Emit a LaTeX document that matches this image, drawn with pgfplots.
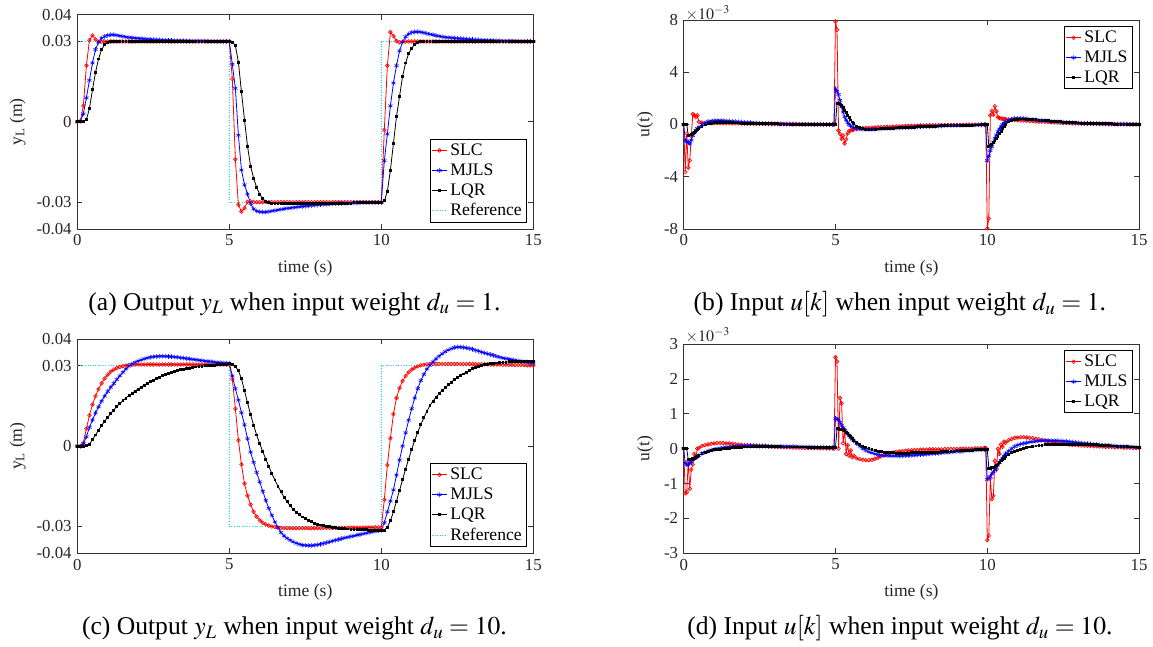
\documentclass[border=0pt]{standalone}
\usepackage{mathptmx}
\usepackage{fontspec}
\setmainfont{Liberation Serif}
\usepackage{pgfplots}
\usepackage{pgfplotstable}
\pgfplotsset{compat=1.18}
\definecolor{refc}{rgb}{0,0.9,0.9}

\pgfplotstableread{
t slc mjls lqr
0.0 0 0 0
0.1 0.0003 0.0002 0
0.2 0.006 0.003 0.0002
0.3 0.021 0.009 0.0008
0.4 0.0305 0.0155 0.005
0.5 0.0323 0.022 0.012
0.6 0.0308 0.027 0.0185
0.7 0.0298 0.0298 0.0235
0.8 0.0299 0.0312 0.027
0.9 0.03 0.0319 0.0288
1.0 0.03 0.0323 0.0296
1.1 0.03 0.0325 0.03
1.2 0.03 0.0325 0.0301
1.3 0.03 0.0323 0.0301
1.4 0.03 0.0321 0.0301
1.5 0.03 0.0319 0.0301
1.6 0.03 0.0317 0.0301
1.7 0.03 0.0315 0.0301
1.8 0.03 0.0314 0.0301
1.9 0.03 0.0313 0.0301
2.0 0.03 0.0312 0.0301
2.1 0.03 0.0311 0.0301
2.2 0.03 0.031 0.0301
2.3 0.03 0.0309 0.0301
2.4 0.03 0.0308 0.0301
2.5 0.03 0.0307 0.0301
2.6 0.03 0.0306 0.0301
2.7 0.03 0.0306 0.0301
2.8 0.03 0.0305 0.0301
2.9 0.03 0.0305 0.0301
3.0 0.03 0.0304 0.0301
3.1 0.03 0.0304 0.0301
3.2 0.03 0.0303 0.0301
3.3 0.03 0.0303 0.0301
3.4 0.03 0.0303 0.0301
3.5 0.03 0.0303 0.0301
3.6 0.03 0.0302 0.0301
3.7 0.03 0.0302 0.0301
3.8 0.03 0.0302 0.0301
3.9 0.03 0.0302 0.0301
4.0 0.03 0.0302 0.0301
4.1 0.03 0.0302 0.0301
4.2 0.03 0.0302 0.0301
4.3 0.03 0.0301 0.0301
4.4 0.03 0.0301 0.0301
4.5 0.03 0.0301 0.0301
4.6 0.03 0.0301 0.0301
4.7 0.03 0.0301 0.0301
4.8 0.03 0.0301 0.0301
4.9 0.03 0.0301 0.0301
5.0 0.03 0.0301 0.0301
5.1 0.016 0.0215 0.0298
5.2 -0.014 0.0125 0.0285
5.3 -0.031 -0.005 0.0223
5.4 -0.0335 -0.018 0.0112
5.5 -0.0322 -0.0235 0.0007
5.6 -0.0299 -0.027 -0.0091
5.7 -0.0297 -0.0305 -0.0165
5.8 -0.0299 -0.0325 -0.021
5.9 -0.03 -0.0333 -0.0245
6.0 -0.03 -0.0336 -0.027
6.1 -0.03 -0.0337 -0.0287
6.2 -0.03 -0.0337 -0.0297
6.3 -0.03 -0.0335 -0.0302
6.4 -0.03 -0.0333 -0.0304
6.5 -0.03 -0.0331 -0.0305
6.6 -0.03 -0.0329 -0.0305
6.7 -0.03 -0.0327 -0.0305
6.8 -0.03 -0.0325 -0.0305
6.9 -0.03 -0.0323 -0.0305
7.0 -0.03 -0.0322 -0.0305
7.1 -0.03 -0.032 -0.0305
7.2 -0.03 -0.0319 -0.0305
7.3 -0.03 -0.0317 -0.0305
7.4 -0.03 -0.0316 -0.0305
7.5 -0.03 -0.0315 -0.0305
7.6 -0.03 -0.0314 -0.0305
7.7 -0.03 -0.0312 -0.0305
7.8 -0.03 -0.0311 -0.0305
7.9 -0.03 -0.031 -0.0305
8.0 -0.03 -0.0309 -0.0305
8.1 -0.03 -0.0308 -0.0304
8.2 -0.03 -0.0308 -0.0304
8.3 -0.03 -0.0307 -0.0304
8.4 -0.03 -0.0306 -0.0304
8.5 -0.03 -0.0306 -0.0304
8.6 -0.03 -0.0305 -0.0303
8.7 -0.03 -0.0305 -0.0303
8.8 -0.03 -0.0304 -0.0303
8.9 -0.03 -0.0304 -0.0303
9.0 -0.03 -0.0303 -0.0303
9.1 -0.03 -0.0303 -0.0302
9.2 -0.03 -0.0303 -0.0302
9.3 -0.03 -0.0302 -0.0302
9.4 -0.03 -0.0302 -0.0302
9.5 -0.03 -0.0302 -0.0302
9.6 -0.03 -0.0302 -0.0302
9.7 -0.03 -0.0301 -0.0302
9.8 -0.03 -0.0301 -0.0302
9.9 -0.03 -0.0301 -0.0302
10.0 -0.03 -0.0301 -0.0302
10.1 -0.003 -0.0145 -0.0295
10.2 0.021 -0.0045 -0.026
10.3 0.0335 0.006 -0.018
10.4 0.032 0.0145 -0.008
10.5 0.0302 0.021 0.002
10.6 0.0297 0.0265 0.0095
10.7 0.0299 0.0298 0.017
10.8 0.03 0.0318 0.022
10.9 0.03 0.0328 0.0255
11.0 0.03 0.0334 0.0275
11.1 0.03 0.0336 0.0288
11.2 0.03 0.0336 0.0295
11.3 0.03 0.0335 0.0299
11.4 0.03 0.0333 0.0301
11.5 0.03 0.033 0.0301
11.6 0.03 0.0327 0.0301
11.7 0.03 0.0325 0.0301
11.8 0.03 0.0322 0.0301
11.9 0.03 0.032 0.0301
12.0 0.03 0.0318 0.0301
12.1 0.03 0.0316 0.0301
12.2 0.03 0.0315 0.0301
12.3 0.03 0.0314 0.0301
12.4 0.03 0.0313 0.0301
12.5 0.03 0.0312 0.0301
12.6 0.03 0.0311 0.0301
12.7 0.03 0.031 0.0301
12.8 0.03 0.0309 0.0301
12.9 0.03 0.0308 0.0301
13.0 0.03 0.0307 0.0301
13.1 0.03 0.0306 0.0301
13.2 0.03 0.0306 0.0301
13.3 0.03 0.0305 0.0301
13.4 0.03 0.0305 0.0301
13.5 0.03 0.0304 0.0301
13.6 0.03 0.0304 0.0301
13.7 0.03 0.0303 0.0301
13.8 0.03 0.0303 0.0301
13.9 0.03 0.0303 0.0301
14.0 0.03 0.0302 0.0301
14.1 0.03 0.0302 0.0301
14.2 0.03 0.0302 0.0301
14.3 0.03 0.0302 0.0301
14.4 0.03 0.0302 0.0301
14.5 0.03 0.0301 0.0301
14.6 0.03 0.0301 0.0301
14.7 0.03 0.0301 0.0301
14.8 0.03 0.0301 0.0301
14.9 0.03 0.0301 0.0301
15.0 0.03 0.0301 0.0301
}\tabA

\pgfplotstableread{
t slc mjls lqr
0.00 0 0 0
0.05 -3.65 -1.22 0
0.10 -0.7 -1.3 0
0.15 -3.3 -1.35 -0.84
0.20 -2.75 -1.5 -0.8
0.25 -0.9 -1.2 -0.74
0.30 0.8 -0.85 -0.68
0.35 0.7 -0.65 -0.6
0.40 0.55 -0.45 -0.5
0.45 0.7 -0.3 -0.41
0.50 0.2 -0.2 -0.32
0.6 0.15 0.0 -0.15
0.7 0.1 0.12 -0.03
0.8 0.1 0.22 0.05
0.9 0.1 0.27 0.1
1.0 0.1 0.3 0.13
1.1 0.1 0.31 0.14
1.2 0.1 0.31 0.14
1.3 0.1 0.3 0.14
1.4 0.1 0.28 0.14
1.5 0.1 0.26 0.13
1.6 0.09 0.24 0.13
1.7 0.09 0.22 0.12
1.8 0.08 0.2 0.12
1.9 0.08 0.18 0.11
2.0 0.07 0.16 0.1
2.1 0.07 0.15 0.1
2.2 0.06 0.14 0.09
2.3 0.06 0.12 0.09
2.4 0.05 0.11 0.08
2.5 0.05 0.1 0.07
2.6 0.05 0.09 0.07
2.7 0.04 0.08 0.06
2.8 0.04 0.07 0.06
2.9 0.04 0.06 0.05
3.0 0.03 0.06 0.05
3.1 0.03 0.05 0.05
3.2 0.03 0.05 0.04
3.3 0.03 0.04 0.04
3.4 0.02 0.04 0.04
3.5 0.02 0.03 0.03
3.6 0.02 0.03 0.03
3.7 0.02 0.03 0.03
3.8 0.02 0.02 0.03
3.9 0.01 0.02 0.02
4.0 0.01 0.02 0.02
4.1 0.01 0.02 0.02
4.2 0.01 0.01 0.02
4.3 0.01 0.01 0.01
4.4 0.01 0.01 0.01
4.5 0 0.01 0.01
4.6 0 0.01 0.01
4.7 0 0 0.01
4.8 0 0 0
4.9 0 0 0
4.95 0 0 0
5.00 7.9 2.73 0
5.05 7.25 2.55 1.63
5.10 -0.46 2.3 1.6
5.15 -0.72 1.85 1.53
5.20 -1.1 1.35 1.45
5.25 -0.85 0.95 1.3
5.30 -1.45 0.6 1.1
5.35 -1.15 0.35 0.9
5.40 -0.69 0.15 0.7
5.45 -0.5 0.0 0.52
5.50 -0.46 -0.1 0.35
5.55 -0.43 -0.17 0.2
5.60 -0.4 -0.23 0.05
5.7 -0.35 -0.3 -0.12
5.8 -0.31 -0.35 -0.25
5.9 -0.28 -0.37 -0.31
6.0 -0.26 -0.38 -0.35
6.1 -0.25 -0.38 -0.36
6.2 -0.24 -0.37 -0.36
6.3 -0.23 -0.36 -0.35
6.4 -0.21 -0.35 -0.34
6.5 -0.2 -0.34 -0.33
6.6 -0.19 -0.33 -0.32
6.7 -0.18 -0.31 -0.31
6.8 -0.17 -0.3 -0.29
6.9 -0.16 -0.29 -0.28
7.0 -0.15 -0.28 -0.26
7.1 -0.14 -0.26 -0.25
7.2 -0.13 -0.25 -0.24
7.3 -0.12 -0.24 -0.22
7.4 -0.11 -0.22 -0.21
7.5 -0.1 -0.21 -0.2
7.6 -0.1 -0.2 -0.19
7.7 -0.09 -0.19 -0.18
7.8 -0.08 -0.18 -0.17
7.9 -0.08 -0.17 -0.16
8.0 -0.07 -0.16 -0.15
8.1 -0.07 -0.15 -0.14
8.2 -0.06 -0.14 -0.13
8.3 -0.06 -0.13 -0.12
8.4 -0.05 -0.12 -0.11
8.5 -0.05 -0.11 -0.1
8.6 -0.05 -0.1 -0.09
8.7 -0.04 -0.09 -0.09
8.8 -0.04 -0.08 -0.08
8.9 -0.04 -0.08 -0.07
9.0 -0.03 -0.07 -0.07
9.1 -0.03 -0.06 -0.06
9.2 -0.03 -0.06 -0.05
9.3 -0.02 -0.05 -0.05
9.4 -0.02 -0.05 -0.04
9.5 -0.02 -0.04 -0.04
9.6 -0.02 -0.04 -0.03
9.7 -0.01 -0.03 -0.03
9.8 -0.01 -0.03 -0.02
9.9 -0.01 -0.02 -0.02
9.95 -0.01 -0.02 -0.02
10.00 -7.95 -2.76 -0.02
10.05 -7.2 -2.4 -1.65
10.10 0.7 -2.0 -1.6
10.15 1.05 -1.7 -1.5
10.20 0.75 -1.35 -1.4
10.25 1.4 -1.05 -1.25
10.30 1.0 -0.8 -1.1
10.35 0.55 -0.55 -0.9
10.40 0.5 -0.35 -0.7
10.45 0.45 -0.17 -0.5
10.50 0.45 0.0 -0.3
10.55 0.42 0.1 -0.15
10.60 0.4 0.2 0.0
10.7 0.38 0.33 0.2
10.8 0.36 0.42 0.32
10.9 0.34 0.47 0.38
11.0 0.33 0.48 0.42
11.1 0.31 0.47 0.43
11.2 0.3 0.45 0.43
11.3 0.28 0.43 0.42
11.4 0.27 0.4 0.4
11.5 0.25 0.38 0.38
11.6 0.24 0.36 0.36
11.7 0.22 0.33 0.34
11.8 0.21 0.31 0.32
11.9 0.2 0.29 0.3
12.0 0.18 0.27 0.28
12.1 0.17 0.25 0.26
12.2 0.16 0.23 0.24
12.3 0.15 0.21 0.22
12.4 0.14 0.2 0.21
12.5 0.12 0.18 0.19
12.6 0.11 0.17 0.18
12.7 0.1 0.15 0.16
12.8 0.09 0.14 0.15
12.9 0.09 0.12 0.13
13.0 0.08 0.11 0.12
13.1 0.07 0.1 0.11
13.2 0.07 0.09 0.1
13.3 0.06 0.09 0.1
13.4 0.06 0.08 0.09
13.5 0.05 0.07 0.08
13.6 0.05 0.07 0.07
13.7 0.04 0.06 0.07
13.8 0.04 0.05 0.06
13.9 0.04 0.05 0.06
14.0 0.03 0.04 0.05
14.1 0.03 0.04 0.05
14.2 0.03 0.04 0.04
14.3 0.02 0.03 0.04
14.4 0.02 0.03 0.04
14.5 0.02 0.03 0.03
14.6 0.02 0.02 0.03
14.7 0.01 0.02 0.03
14.8 0.01 0.02 0.02
14.9 0.01 0.02 0.02
15.0 0.01 0.01 0.02
}\tabB

\pgfplotstableread{
t slc mjls lqr
0.0 0 0 0
0.1 0 0 0
0.2 0.0012 0.001 0
0.3 0.0065 0.0035 0.0002
0.4 0.0115 0.007 0.0008
0.5 0.0155 0.0098 0.0024
0.6 0.0187 0.0124 0.0042
0.7 0.0213 0.0147 0.006
0.8 0.0235 0.0168 0.0077
0.9 0.0253 0.0187 0.0093
1.0 0.0267 0.0204 0.0108
1.1 0.0278 0.022 0.0122
1.2 0.0286 0.0234 0.0135
1.3 0.0292 0.0249 0.0148
1.4 0.0296 0.0263 0.0159
1.5 0.0299 0.0276 0.017
1.6 0.0301 0.0288 0.018
1.7 0.0303 0.0299 0.0189
1.8 0.0304 0.0307 0.0198
1.9 0.0305 0.0313 0.0206
2.0 0.0305 0.0318 0.0213
2.1 0.0305 0.0322 0.0221
2.2 0.0305 0.0326 0.0228
2.3 0.0305 0.0329 0.0235
2.4 0.0305 0.0332 0.0241
2.5 0.0305 0.0334 0.0247
2.6 0.0305 0.0335 0.0253
2.7 0.0305 0.0336 0.0258
2.8 0.0305 0.0336 0.0263
2.9 0.0305 0.0336 0.0267
3.0 0.0305 0.0335 0.0271
3.1 0.0305 0.0334 0.0275
3.2 0.0305 0.0333 0.0279
3.3 0.0305 0.0332 0.0282
3.4 0.0305 0.033 0.0285
3.5 0.0305 0.0329 0.0288
3.6 0.0305 0.0327 0.029
3.7 0.0305 0.0326 0.0292
3.8 0.0305 0.0324 0.0294
3.9 0.0305 0.0323 0.0296
4.0 0.0305 0.0321 0.0298
4.1 0.0305 0.032 0.0299
4.2 0.0305 0.0318 0.03
4.3 0.0305 0.0317 0.0301
4.4 0.0305 0.0316 0.0302
4.5 0.0305 0.0314 0.0303
4.6 0.0305 0.0313 0.0304
4.7 0.0305 0.0312 0.0305
4.8 0.0305 0.0311 0.0306
4.9 0.0305 0.031 0.0307
5.0 0.0305 0.031 0.0308
5.1 0.025 0.0262 0.0307
5.2 0.014 0.0215 0.0298
5.3 0.0022 0.0172 0.0282
5.4 -0.0068 0.0125 0.0252
5.5 -0.014 0.008 0.0207
5.6 -0.0185 0.0028 0.0162
5.7 -0.0218 -0.0022 0.0118
5.8 -0.0245 -0.006 0.0078
5.9 -0.0263 -0.0098 0.0042
6.0 -0.0277 -0.0133 0.001
6.1 -0.0286 -0.0168 -0.002
6.2 -0.0292 -0.0202 -0.0048
6.3 -0.0297 -0.0232 -0.0075
6.4 -0.03 -0.0258 -0.0102
6.5 -0.0302 -0.0283 -0.0126
6.6 -0.0304 -0.0304 -0.0149
6.7 -0.0305 -0.0322 -0.017
6.8 -0.0306 -0.0335 -0.019
6.9 -0.0306 -0.0344 -0.0207
7.0 -0.0306 -0.0351 -0.0222
7.1 -0.0306 -0.0357 -0.0236
7.2 -0.0306 -0.0362 -0.0246
7.3 -0.0306 -0.0366 -0.0256
7.4 -0.0306 -0.0369 -0.0264
7.5 -0.0306 -0.037 -0.0271
7.6 -0.0306 -0.0371 -0.0277
7.7 -0.0306 -0.0371 -0.0282
7.8 -0.0306 -0.037 -0.0287
7.9 -0.0306 -0.0368 -0.0291
8.0 -0.0306 -0.0366 -0.0294
8.1 -0.0305 -0.0363 -0.0297
8.2 -0.0305 -0.036 -0.0299
8.3 -0.0305 -0.0357 -0.0301
8.4 -0.0305 -0.0354 -0.0303
8.5 -0.0305 -0.0351 -0.0304
8.6 -0.0305 -0.0348 -0.0306
8.7 -0.0305 -0.0345 -0.0307
8.8 -0.0305 -0.0342 -0.0308
8.9 -0.0305 -0.034 -0.0309
9.0 -0.0305 -0.0337 -0.031
9.1 -0.0304 -0.0335 -0.0311
9.2 -0.0304 -0.0332 -0.0311
9.3 -0.0304 -0.033 -0.0312
9.4 -0.0304 -0.0327 -0.0312
9.5 -0.0304 -0.0325 -0.0312
9.6 -0.0304 -0.0322 -0.0313
9.7 -0.0304 -0.032 -0.0313
9.8 -0.0303 -0.0318 -0.0313
9.9 -0.0303 -0.0316 -0.0314
10.0 -0.0303 -0.0314 -0.0314
10.1 -0.02 -0.0285 -0.0313
10.2 -0.007 -0.0245 -0.0302
10.3 0.003 -0.0205 -0.0278
10.4 0.012 -0.0163 -0.0245
10.5 0.018 -0.0108 -0.0205
10.6 0.0217 -0.0052 -0.0165
10.7 0.0243 0 -0.0125
10.8 0.0262 0.005 -0.0085
10.9 0.0276 0.0097 -0.0048
11.0 0.0286 0.014 -0.0012
11.1 0.0293 0.018 0.0022
11.2 0.0298 0.0215 0.0052
11.3 0.0302 0.0245 0.008
11.4 0.0304 0.0268 0.0106
11.5 0.0306 0.0288 0.013
11.6 0.0307 0.0302 0.0152
11.7 0.0307 0.0315 0.0168
11.8 0.0307 0.0326 0.0183
11.9 0.0307 0.0336 0.0196
12.0 0.0307 0.0345 0.0207
12.1 0.0307 0.0353 0.0218
12.2 0.0307 0.0359 0.0229
12.3 0.0307 0.0364 0.0239
12.4 0.0307 0.0368 0.0248
12.5 0.0307 0.037 0.0256
12.6 0.0307 0.037 0.0263
12.7 0.0307 0.0369 0.027
12.8 0.0307 0.0367 0.0277
12.9 0.0307 0.0365 0.0283
13.0 0.0306 0.0362 0.0289
13.1 0.0306 0.0358 0.0294
13.2 0.0306 0.0355 0.0298
13.3 0.0306 0.0351 0.0302
13.4 0.0306 0.0348 0.0305
13.5 0.0306 0.0345 0.0307
13.6 0.0305 0.0342 0.0309
13.7 0.0305 0.0339 0.031
13.8 0.0305 0.0335 0.0311
13.9 0.0305 0.0332 0.0312
14.0 0.0304 0.0329 0.0313
14.1 0.0304 0.0327 0.0314
14.2 0.0304 0.0325 0.0315
14.3 0.0304 0.0323 0.0315
14.4 0.0303 0.0321 0.0316
14.5 0.0303 0.0319 0.0316
14.6 0.0303 0.0317 0.0317
14.7 0.0303 0.0315 0.0317
14.8 0.0302 0.0314 0.0317
14.9 0.0302 0.0312 0.0318
15.0 0.0302 0.0311 0.0318
}\tabC

\pgfplotstableread{
t slc mjls lqr
0.00 0 0 0
0.05 -1.28 -0.42 0
0.10 -1.25 -0.45 0
0.15 -0.35 -0.47 -0.32
0.20 -1.15 -0.42 -0.31
0.25 -0.6 -0.37 -0.3
0.30 -0.45 -0.32 -0.29
0.35 -0.15 -0.28 -0.27
0.40 -0.25 -0.25 -0.24
0.45 0.0 -0.22 -0.21
0.50 0.02 -0.19 -0.19
0.6 0.08 -0.14 -0.14
0.7 0.1 -0.1 -0.1
0.8 0.12 -0.07 -0.07
0.9 0.14 -0.04 -0.05
1.0 0.15 -0.02 -0.03
1.1 0.16 0.0 -0.02
1.2 0.16 0.01 -0.01
1.3 0.16 0.03 0.0
1.4 0.15 0.04 0.01
1.5 0.15 0.05 0.02
1.6 0.14 0.06 0.03
1.7 0.13 0.06 0.03
1.8 0.12 0.07 0.04
1.9 0.11 0.07 0.04
2.0 0.1 0.08 0.05
2.1 0.1 0.08 0.05
2.2 0.09 0.08 0.05
2.3 0.09 0.08 0.06
2.4 0.08 0.08 0.06
2.5 0.07 0.08 0.06
2.6 0.07 0.08 0.06
2.7 0.07 0.08 0.06
2.8 0.06 0.07 0.06
2.9 0.06 0.07 0.06
3.0 0.05 0.07 0.06
3.1 0.05 0.07 0.06
3.2 0.05 0.07 0.06
3.3 0.04 0.06 0.05
3.4 0.04 0.06 0.05
3.5 0.04 0.06 0.05
3.6 0.03 0.06 0.05
3.7 0.03 0.06 0.05
3.8 0.03 0.05 0.05
3.9 0.03 0.05 0.05
4.0 0.02 0.05 0.05
4.1 0.02 0.05 0.04
4.2 0.02 0.05 0.04
4.3 0.02 0.04 0.04
4.4 0.02 0.04 0.04
4.5 0.01 0.04 0.04
4.6 0.01 0.04 0.04
4.7 0.01 0.03 0.03
4.8 0.01 0.03 0.03
4.9 0.01 0.03 0.03
4.95 0.0 0.03 0.03
5.00 2.62 0.87 0.03
5.05 2.5 0.85 0.57
5.10 0.0 0.82 0.57
5.15 1.45 0.75 0.56
5.20 1.3 0.66 0.56
5.25 0.15 0.6 0.54
5.30 0.55 0.53 0.51
5.35 -0.15 0.48 0.47
5.40 0.1 0.42 0.43
5.45 -0.2 0.37 0.39
5.50 -0.05 0.32 0.34
5.55 -0.25 0.27 0.3
5.60 -0.2 0.22 0.25
5.7 -0.28 0.14 0.18
5.8 -0.3 0.07 0.12
5.9 -0.32 0.0 0.07
6.0 -0.33 -0.05 0.03
6.1 -0.33 -0.09 0.0
6.2 -0.32 -0.12 -0.03
6.3 -0.29 -0.15 -0.05
6.4 -0.26 -0.17 -0.07
6.5 -0.22 -0.19 -0.09
6.6 -0.19 -0.2 -0.1
6.7 -0.16 -0.2 -0.11
6.8 -0.13 -0.21 -0.12
6.9 -0.11 -0.21 -0.12
7.0 -0.09 -0.21 -0.13
7.1 -0.08 -0.21 -0.13
7.2 -0.07 -0.21 -0.13
7.3 -0.06 -0.2 -0.13
7.4 -0.05 -0.2 -0.13
7.5 -0.05 -0.19 -0.12
7.6 -0.04 -0.19 -0.12
7.7 -0.04 -0.18 -0.12
7.8 -0.03 -0.17 -0.12
7.9 -0.03 -0.17 -0.11
8.0 -0.03 -0.16 -0.11
8.1 -0.02 -0.15 -0.11
8.2 -0.02 -0.14 -0.1
8.3 -0.02 -0.14 -0.1
8.4 -0.02 -0.13 -0.1
8.5 -0.02 -0.12 -0.09
8.6 -0.01 -0.11 -0.09
8.7 -0.01 -0.11 -0.08
8.8 -0.01 -0.1 -0.08
8.9 -0.01 -0.09 -0.07
9.0 -0.01 -0.08 -0.06
9.1 0 -0.08 -0.06
9.2 0 -0.07 -0.05
9.3 0 -0.06 -0.05
9.4 0 -0.06 -0.04
9.5 0 -0.05 -0.04
9.6 0.01 -0.04 -0.03
9.7 0.01 -0.04 -0.03
9.8 0.01 -0.03 -0.03
9.9 0.02 -0.03 -0.02
9.95 0.02 -0.02 -0.02
10.00 -2.62 -0.88 -0.02
10.05 -2.5 -0.84 -0.56
10.10 -0.85 -0.79 -0.56
10.15 -1.45 -0.72 -0.55
10.20 -1.35 -0.66 -0.54
10.25 -0.35 -0.6 -0.51
10.30 -0.6 -0.53 -0.48
10.35 0.0 -0.47 -0.44
10.40 -0.15 -0.4 -0.4
10.45 0.12 -0.33 -0.35
10.50 0.05 -0.27 -0.31
10.55 0.2 -0.21 -0.27
10.60 0.17 -0.15 -0.23
10.7 0.24 -0.07 -0.16
10.8 0.28 0.0 -0.11
10.9 0.31 0.06 -0.07
11.0 0.32 0.1 -0.04
11.1 0.33 0.13 -0.01
11.2 0.33 0.15 0.01
11.3 0.32 0.17 0.03
11.4 0.31 0.19 0.05
11.5 0.3 0.2 0.07
11.6 0.28 0.21 0.08
11.7 0.27 0.22 0.09
11.8 0.25 0.23 0.1
11.9 0.23 0.23 0.11
12.0 0.21 0.23 0.12
12.1 0.2 0.23 0.12
12.2 0.18 0.23 0.13
12.3 0.17 0.23 0.13
12.4 0.16 0.22 0.13
12.5 0.14 0.22 0.13
12.6 0.13 0.21 0.13
12.7 0.12 0.2 0.13
12.8 0.11 0.19 0.13
12.9 0.11 0.18 0.13
13.0 0.1 0.17 0.13
13.1 0.09 0.16 0.12
13.2 0.09 0.15 0.12
13.3 0.08 0.14 0.12
13.4 0.08 0.13 0.11
13.5 0.07 0.12 0.11
13.6 0.07 0.12 0.11
13.7 0.06 0.11 0.1
13.8 0.06 0.1 0.1
13.9 0.05 0.1 0.09
14.0 0.05 0.09 0.09
14.1 0.05 0.08 0.08
14.2 0.04 0.08 0.08
14.3 0.04 0.07 0.07
14.4 0.04 0.07 0.07
14.5 0.03 0.06 0.06
14.6 0.03 0.06 0.06
14.7 0.03 0.05 0.05
14.8 0.02 0.05 0.05
14.9 0.02 0.04 0.05
15.0 0.02 0.04 0.04
}\tabD

\pgfplotsset{
  myax/.style={
    scale only axis, xmin=0, xmax=15,
    xtick={0,5,10,15}, xticklabels={0,5,10,15},
    scaled y ticks=false, scaled x ticks=false,
    tick align=inside, major tick length=3.2pt,
    axis line style={black!80, line width=0.45pt},
    every tick/.style={black!80, line width=0.45pt},
    tick label style={font=\fontsize{10.5}{12}\selectfont, text=black!85},
    label style={font=\fontsize{11}{13}\selectfont, text=black!85},
    xlabel={time (s)},
    xlabel style={yshift=-2pt},
    legend cell align=left,
    legend style={font=\fontsize{11}{13}\selectfont, draw=black, line width=0.5pt,
      inner xsep=1pt, inner ysep=0.5pt, row sep=-0.3pt},
    legend image code/.code={\draw[mark repeat=2,mark phase=2] plot coordinates {(0cm,0cm) (0.16cm,0cm) (0.32cm,0cm)};},
  },
  slc/.style={red, line width=0.5pt, mark=o, mark size=1.15pt, mark options={solid, line width=0.4pt}},
  mjls/.style={blue, line width=0.5pt, mark=asterisk, mark size=1.5pt, mark options={solid, line width=0.35pt}},
  lqr/.style={black, line width=0.5pt, mark=square*, mark size=0.6pt, mark options={solid}},
  refl/.style={color=refc, densely dotted, line width=0.6pt},
}

\begin{document}
\begin{tikzpicture}
\useasboundingbox (0,0) rectangle (720.6pt,-403.75pt);

% (a)
\begin{axis}[myax, at={(48.3pt,-143.1pt)}, anchor=south west, width=285pt, height=133.9pt,
  ymin=-0.04, ymax=0.04, ytick={-0.04,-0.03,0,0.03,0.04}, yticklabels={-0.04,-0.03,0,0.03,0.04},
  ylabel={y\textsubscript{L} (m)},
  legend style={at={(0.986,0.03)}, anchor=south east}]
\addplot[refl, const plot, forget plot] coordinates {(0,0.03) (5,-0.03) (10,0.03) (15,0.03)};
\addplot[slc] table[x=t, y=slc] {\tabA};
\addplot[mjls] table[x=t, y=mjls] {\tabA};
\addplot[lqr] table[x=t, y=lqr] {\tabA};
\addlegendentry{SLC}
\addlegendentry{MJLS}
\addlegendentry{LQR}
\addlegendimage{refl}
\addlegendentry{Reference}
\end{axis}

% (b)
\begin{axis}[myax, name=axb, at={(427.3pt,-143.1pt)}, anchor=south west, width=284.6pt, height=130.6pt,
  ymin=-8, ymax=8, ytick={-8,-4,0,4,8}, yticklabels={-8,-4,0,4,8},
  ylabel={u(t)},
  legend style={at={(0.986,0.97)}, anchor=north east}]
\addplot[slc] table[x=t, y=slc] {\tabB};
\addplot[mjls] table[x=t, y=mjls] {\tabB};
\addplot[lqr] table[x=t, y=lqr] {\tabB};
\legend{SLC, MJLS, LQR}
\end{axis}
\node[anchor=south west, inner sep=0pt, font=\fontsize{10}{12}\selectfont, text=black!85] at ([xshift=1pt,yshift=-0.5pt]axb.north west) {$\times10^{-3}$};

% (c)
\begin{axis}[myax, at={(48.3pt,-345.8pt)}, anchor=south west, width=285pt, height=133.9pt,
  ymin=-0.04, ymax=0.04, ytick={-0.04,-0.03,0,0.03,0.04}, yticklabels={-0.04,-0.03,0,0.03,0.04},
  ylabel={y\textsubscript{L} (m)},
  legend style={at={(0.986,0.03)}, anchor=south east}]
\addplot[refl, const plot, forget plot] coordinates {(0,0.03) (5,-0.03) (10,0.03) (15,0.03)};
\addplot[slc] table[x=t, y=slc] {\tabC};
\addplot[mjls] table[x=t, y=mjls] {\tabC};
\addplot[lqr] table[x=t, y=lqr] {\tabC};
\addlegendentry{SLC}
\addlegendentry{MJLS}
\addlegendentry{LQR}
\addlegendimage{refl}
\addlegendentry{Reference}
\end{axis}

% (d)
\begin{axis}[myax, name=axd, at={(427.3pt,-345.8pt)}, anchor=south west, width=284.6pt, height=130.8pt,
  ymin=-3, ymax=3, ytick={-3,-2,-1,0,1,2,3}, yticklabels={-3,-2,-1,0,1,2,3},
  ylabel={u(t)},
  legend style={at={(0.986,0.97)}, anchor=north east}]
\addplot[slc] table[x=t, y=slc] {\tabD};
\addplot[mjls] table[x=t, y=mjls] {\tabD};
\addplot[lqr] table[x=t, y=lqr] {\tabD};
\legend{SLC, MJLS, LQR}
\end{axis}
\node[anchor=south west, inner sep=0pt, font=\fontsize{10}{12}\selectfont, text=black!85] at ([xshift=1pt,yshift=0.5pt]axd.north west) {$\times10^{-3}$};

\node[font=\fontsize{16}{18}\selectfont] at (184pt,-190pt) {(a) Output $y_L$ when input weight $d_u=1$.};
\node[font=\fontsize{16}{18}\selectfont] at (562.4pt,-190pt) {(b) Input $u[k]$ when input weight $d_u=1$.};
\node[font=\fontsize{16}{18}\selectfont] at (184pt,-392.7pt) {(c) Output $y_L$ when input weight $d_u=10$.};
\node[font=\fontsize{16}{18}\selectfont] at (562.4pt,-392.7pt) {(d) Input $u[k]$ when input weight $d_u=10$.};
\end{tikzpicture}
\end{document}
